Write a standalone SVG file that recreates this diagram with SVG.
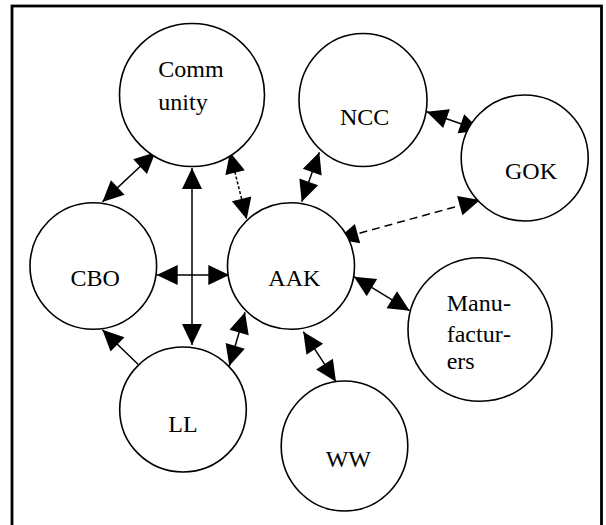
<svg xmlns="http://www.w3.org/2000/svg" width="606" height="525" viewBox="0 0 606 525">
<defs>
<style>
.frame{fill:none;stroke:#000;stroke-width:2.8}
.node ellipse{fill:#fff;stroke:#000;stroke-width:1.6}
.node text{font-family:"Liberation Serif","Times New Roman",serif;font-size:24px;fill:#000}
.edge{stroke:#000;stroke-width:1.5;fill:none}
.dbl{marker-start:url(#ah);marker-end:url(#ah)}
.sgl{marker-end:url(#ah)}
.dot{stroke-dasharray:3 2}
.dash{stroke-dasharray:8 5}
</style>
<marker id="ah" markerUnits="userSpaceOnUse" markerWidth="22" markerHeight="21" refX="21" refY="10" orient="auto-start-reverse" overflow="visible">
<path d="M0,0 L21,10 L0,20 Z" fill="#000"/>
</marker>
</defs>
<rect class="frame" x="12" y="6" width="589.5" height="600"/>
<g id="connectors">
<line class="edge dbl" x1="155.4" y1="152.3" x2="102.4" y2="201.9"/>
<line class="edge dbl" x1="192" y1="168" x2="192" y2="345"/>
<line class="edge dbl" x1="156.7" y1="275" x2="229.3" y2="275"/>
<line class="edge dbl dot" x1="230" y1="152.3" x2="246.7" y2="219.3"/>
<line class="edge dbl" x1="319.3" y1="152.3" x2="301.7" y2="201.7"/>
<line class="edge dbl" x1="426.7" y1="111.7" x2="480.7" y2="130.7"/>
<line class="edge dbl dash" x1="480" y1="200" x2="337.3" y2="239.3"/>
<line class="edge dbl" x1="354" y1="276.7" x2="409.7" y2="310.7"/>
<line class="edge dbl" x1="245" y1="312.3" x2="229.3" y2="366"/>
<line class="edge dbl" x1="303.3" y1="331.7" x2="336" y2="381.7"/>
<line class="edge sgl" x1="138" y1="364.2" x2="102.4" y2="329.8"/>
</g>
<g id="community" class="node">
<ellipse cx="192" cy="95" rx="72.5" ry="71.5"/>
<text x="158.3" y="77">Comm</text>
<text x="158.3" y="110">unity</text>
</g>
<g id="ncc" class="node">
<ellipse cx="363" cy="100" rx="64" ry="66.5"/>
<text x="340" y="125">NCC</text>
</g>
<g id="gok" class="node">
<ellipse cx="524.7" cy="158" rx="63.5" ry="63"/>
<text x="505" y="179">GOK</text>
</g>
<g id="cbo" class="node">
<ellipse cx="93.3" cy="266" rx="63.3" ry="63.3"/>
<text x="70.5" y="286">CBO</text>
</g>
<g id="aak" class="node">
<ellipse cx="291" cy="266" rx="63.5" ry="63.3"/>
<text x="268.3" y="286">AAK</text>
</g>
<g id="manufacturers" class="node">
<ellipse cx="480" cy="329.5" rx="72" ry="71.7"/>
<text y="310.7"><tspan x="446.7">Manu</tspan><tspan x="503">-</tspan></text>
<text y="341.7"><tspan x="446.7">factur</tspan><tspan x="503">-</tspan></text>
<text x="446.7" y="369.3">ers</text>
</g>
<g id="ll" class="node">
<ellipse cx="183" cy="409.5" rx="63.3" ry="62.5"/>
<text x="168.3" y="431.7">LL</text>
</g>
<g id="ww" class="node">
<ellipse cx="344.5" cy="446" rx="63.3" ry="65"/>
<text x="325.7" y="466.7">WW</text>
</g>
</svg>
